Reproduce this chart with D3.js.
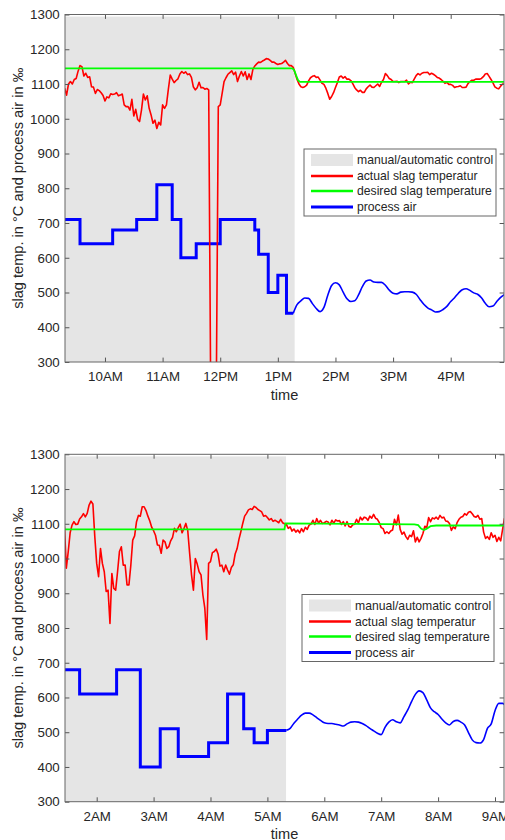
<!DOCTYPE html>
<html lang="en">

<head>
    <meta charset="utf-8">
    <title>Slag temperature: manual vs automatic control</title>
    <script type="text/javascript" src="https://cdn.jsdelivr.net/npm/d3@7"></script>
    <style type="text/css">
    body {
        margin: 0;
        background: #fff;
    }
    svg {
        display: block;
    }
    text {
        font-family: "Liberation Sans", Arial, Helvetica, sans-serif;
        fill: #262626;
    }
    </style>
</head>

<body>
    <script type="text/javascript">
    //svg size
    var w = 505;
    var h = 840;

    //shared y ticks (°C / ‰)
    var yTicks = [300, 400, 500, 600, 700, 800, 900, 1000, 1100, 1200, 1300];

    //legend entries
    var legendLabels = ["manual/automatic control", "actual slag temperatur", "desired slag temperature", "process air"];

    // ---------- upper chart ----------
    var domain1 = ["09:18:22", "16:55:30"];
    var hours1 = ["10:00", "11:00", "12:00", "13:00", "14:00", "15:00", "16:00"];
    var manualEnd1 = "13:17:30";

    //actual slag temperature, one reading every 2 minutes from slagStart1
    var slagStart1 = "09:18";
    var slag1 = [
        1088, 1068, 1100, 1107, 1100, 1113, 1116, 1137, 1153, 1150,
        1123, 1131, 1119, 1121, 1092, 1091, 1073, 1084, 1081, 1075,
        1067, 1051, 1063, 1060, 1072, 1070, 1071, 1075, 1066, 1068,
        1071, 1040, 1035, 1035, 1025, 1056, 1008, 1027, 998, 992,
        1025, 1071, 1054, 1066, 1030, 1011, 987, 996, 972, 990,
        982, 1040, 1030, 1040, 1085, 1126, 1114, 1104, 1110, 1115,
        1129, 1136, 1131, 1135, 1127, 1129, 1119, 1092, 1083, 1089,
        1105, 1089, 1090, 1085, 1087, 1083, 250, 250, 250, 250,
        1035, 1040, 1073, 1107, 1118, 1128, 1133, 1138, 1127, 1134,
        1107, 1123, 1136, 1123, 1135, 1113, 1129, 1113, 1142, 1152,
        1158, 1163, 1162, 1166, 1169, 1173, 1172, 1168, 1163, 1163,
        1159, 1156, 1158, 1159, 1163, 1168, 1159, 1153, 1153, 1148,
        1131, 1113, 1100, 1092, 1090, 1092, 1097, 1109, 1118, 1122,
        1124, 1119, 1120, 1111, 1102, 1099, 1088, 1073, 1056, 1064,
        1075, 1090, 1104, 1120, 1123, 1117, 1121, 1114, 1114, 1110,
        1101, 1090, 1083, 1078, 1082, 1076, 1076, 1086, 1092, 1097,
        1091, 1090, 1095, 1100, 1093, 1105, 1113, 1130, 1124, 1116,
        1113, 1107, 1107, 1108, 1104, 1107, 1107, 1107, 1111, 1100,
        1105, 1104, 1114, 1124, 1130, 1126, 1131, 1133, 1133, 1134,
        1127, 1131, 1128, 1124, 1119, 1117, 1113, 1108, 1102, 1105,
        1099, 1099, 1096, 1090, 1092, 1093, 1095, 1090, 1090, 1091,
        1101, 1107, 1111, 1111, 1114, 1114, 1114, 1116, 1121, 1129,
        1130, 1122, 1113, 1103, 1092, 1088, 1086, 1094, 1100, 1100
    ];

    //desired slag temperature
    var desired1 = [
        ["09:18", 1145], ["13:15", 1145], ["13:17", 1140], ["13:19", 1125],
        ["13:21", 1111], ["13:23", 1106], ["16:56", 1106]
    ];

    //process air, set by hand (steps)
    var airSteps1 = [
        ["09:18", 710], ["09:34", 640], ["10:08", 680], ["10:33", 710],
        ["10:54", 810], ["11:10", 710], ["11:19", 600], ["11:35", 640],
        ["12:00", 710], ["12:36", 680], ["12:40", 610], ["12:50", 500],
        ["13:00", 550], ["13:09", 440], ["13:16", 440]
    ];

    //process air, controller output, one reading every 4 minutes from airStart1
    var airStart1 = "13:16";
    var air1 = [
        440, 465, 476, 484, 483, 468, 454, 445, 457, 492,
        520, 528, 522, 501, 482, 474, 476, 493, 517, 533,
        536, 530, 529, 529, 521, 507, 498, 496, 501, 502,
        502, 501, 495, 480, 466, 456, 450, 444, 445, 451,
        460, 474, 485, 498, 508, 511, 506, 499, 495, 485,
        469, 459, 461, 474, 486, 494
    ];

    // ---------- lower chart ----------
    var domain2 = ["01:26:35", "09:09:29"];
    var hours2 = ["02:00", "03:00", "04:00", "05:00", "06:00", "07:00", "08:00", "09:00"];
    var manualEnd2 = "05:19:40";

    var slagStart2 = "01:26";
    var slag2 = [
        1092, 972, 1020, 1074, 1096, 1106, 1098, 1099, 1114, 1120,
        1129, 1120, 1130, 1154, 1165, 1157, 1063, 986, 948, 1029,
        986, 962, 905, 909, 813, 957, 914, 909, 962, 1020,
        1034, 981, 981, 924, 924, 981, 1053, 1065, 1106, 1124,
        1122, 1149, 1149, 1138, 1122, 1108, 1090, 1080, 1067, 1039,
        1038, 1015, 1053, 1048, 1029, 1034, 1051, 1061, 1087, 1077,
        1089, 1099, 1074, 1086, 1101, 1081, 1015, 953, 909, 1000,
        984, 962, 953, 895, 857, 767, 986, 991, 1017, 1020,
        1027, 1013, 978, 981, 962, 981, 967, 955, 974, 982,
        1013, 1028, 1055, 1077, 1101, 1122, 1130, 1140, 1143, 1141,
        1150, 1147, 1141, 1138, 1134, 1122, 1124, 1118, 1111, 1115,
        1107, 1110, 1107, 1103, 1113, 1103, 1100, 1098, 1087, 1091,
        1079, 1085, 1076, 1082, 1074, 1086, 1077, 1090, 1084, 1096,
        1099, 1110, 1098, 1115, 1102, 1110, 1101, 1103, 1107, 1105,
        1097, 1110, 1102, 1111, 1108, 1109, 1098, 1106, 1094, 1106,
        1092, 1090, 1097, 1099, 1113, 1102, 1119, 1111, 1119, 1117,
        1110, 1122, 1116, 1127, 1116, 1113, 1103, 1089, 1086, 1072,
        1077, 1072, 1079, 1082, 1113, 1097, 1125, 1084, 1070, 1076,
        1063, 1055, 1067, 1063, 1080, 1048, 1061, 1048, 1058, 1072,
        1093, 1088, 1118, 1106, 1117, 1114, 1119, 1113, 1124, 1117,
        1119, 1108, 1107, 1101, 1081, 1091, 1086, 1103, 1113, 1119,
        1121, 1129, 1125, 1133, 1135, 1129, 1121, 1119, 1124, 1113,
        1115, 1076, 1058, 1063, 1055, 1074, 1061, 1067, 1049, 1061,
        1051, 1084, 1116
    ];

    var desired2 = [
        ["01:26", 1084], ["05:18", 1084], ["05:19", 1101], ["06:30", 1100],
        ["07:35", 1098], ["07:39", 1096], ["07:42", 1086], ["07:45", 1082],
        ["07:48", 1086], ["07:52", 1093], ["07:58", 1095], ["09:10", 1095]
    ];

    var airSteps2 = [
        ["01:26", 680], ["01:42", 610], ["02:21", 680], ["02:46", 400],
        ["03:07", 510], ["03:26", 430], ["03:58", 470], ["04:18", 610],
        ["04:35", 510], ["04:46", 470], ["05:00", 505], ["05:20", 505]
    ];

    var airStart2 = "05:20";
    var air2 = [
        506, 511, 526, 538, 549, 555, 555, 550, 542, 534,
        527, 525, 525, 523, 521, 518, 524, 529, 530, 529,
        525, 519, 511, 504, 497, 493, 514, 529, 536, 530,
        527, 545, 564, 588, 609, 619, 614, 593, 570, 559,
        551, 538, 527, 521, 531, 534, 529, 521, 499, 478,
        470, 469, 479, 511, 524, 562, 583, 583, 573
    ];

    //time helpers
    var parseHM = d3.timeParse("%H:%M");
    var parseHMS = d3.timeParse("%H:%M:%S");

    function tm(s) {
        return s.length > 5 ? parseHMS(s) : parseHM(s);
    }

    function series(start, stepMin, vals) {
        var t0 = tm(start);
        return vals.map(function(v, i) {
            return [d3.timeMinute.offset(t0, i * stepMin), v];
        });
    }

    function pairs(arr) {
        return arr.map(function(d) {
            return [tm(d[0]), d[1]];
        });
    }

    //create svg
    var svg = d3.select('body')
        .append('svg')
        .attr('width', w)
        .attr('height', h);

    function drawChart(id, cfg) {
        var x = d3.scaleTime()
            .domain(cfg.domain.map(tm))
            .range([65, 504]);
        var y = d3.scaleLinear()
            .domain([300, 1300])
            .range([cfg.bottom, cfg.top]);

        var g = svg.append('g');

        g.append('clipPath')
            .attr('id', id)
            .append('rect')
            .attr('x', x.range()[0])
            .attr('y', cfg.top)
            .attr('width', x.range()[1] - x.range()[0])
            .attr('height', cfg.bottom - cfg.top);

        var plot = g.append('g').attr('clip-path', 'url(#' + id + ')');

        //manual phase
        plot.append('rect')
            .attr('x', x(tm(cfg.domain[0])))
            .attr('y', y(1294))
            .attr('width', x(tm(cfg.manualEnd)) - x(tm(cfg.domain[0])))
            .attr('height', y(300) - y(1294))
            .attr('fill', '#e5e5e5');

        var line = d3.line()
            .x(function(d) { return x(d[0]); })
            .y(function(d) { return y(d[1]); });

        //process air
        plot.append('path')
            .datum(pairs(cfg.airSteps))
            .attr('fill', 'none')
            .attr('stroke', '#0000ff')
            .attr('stroke-width', 3)
            .attr('d', line.curve(d3.curveStepAfter));

        plot.append('path')
            .datum(series(cfg.airStart, 4, cfg.air))
            .attr('fill', 'none')
            .attr('stroke', '#0000ff')
            .attr('stroke-width', 1.6)
            .attr('d', line.curve(d3.curveMonotoneX));

        //actual slag temperature
        plot.append('path')
            .datum(series(cfg.slagStart, 2, cfg.slag))
            .attr('fill', 'none')
            .attr('stroke', '#ff0000')
            .attr('stroke-width', 1.6)
            .attr('stroke-linejoin', 'round')
            .attr('d', line.curve(d3.curveLinear));

        //desired slag temperature
        plot.append('path')
            .datum(pairs(cfg.desired))
            .attr('fill', 'none')
            .attr('stroke', '#00ff00')
            .attr('stroke-width', 1.8)
            .attr('d', line.curve(d3.curveLinear));

        //axes, ticks pointing inwards on all four sides
        var tickVals = cfg.hours.map(tm);
        var axes = g.append('g')
            .attr('color', '#555');

        axes.append('g')
            .attr('transform', 'translate(0,' + cfg.bottom + ')')
            .call(d3.axisBottom(x).tickValues(tickVals).tickFormat(d3.timeFormat('%-I%p'))
                .tickSize(-4.4).tickPadding(10));
        axes.append('g')
            .attr('transform', 'translate(0,' + cfg.top + ')')
            .call(d3.axisTop(x).tickValues(tickVals).tickFormat('').tickSize(-4.4));
        axes.append('g')
            .attr('transform', 'translate(65,0)')
            .call(d3.axisLeft(y).tickValues(yTicks).tickFormat(d3.format('d'))
                .tickSize(-4.4).tickPadding(5.3));
        axes.append('g')
            .attr('transform', 'translate(504,0)')
            .call(d3.axisRight(y).tickValues(yTicks).tickFormat('').tickSize(-4.4));
        axes.selectAll('.domain').remove();
        axes.selectAll('g').attr('font-size', 13.3);

        axes.append('rect')
            .attr('x', 65)
            .attr('y', cfg.top)
            .attr('width', 504 - 65)
            .attr('height', cfg.bottom - cfg.top)
            .attr('fill', 'none')
            .attr('stroke', '#666')
            .attr('stroke-width', 1);

        //axis titles
        g.append('text')
            .attr('x', 284.5)
            .attr('y', cfg.timeY)
            .attr('text-anchor', 'middle')
            .attr('font-size', 14.6)
            .text('time');

        g.append('text')
            .attr('transform', 'translate(22.5,' + (cfg.top + cfg.bottom) / 2 + ') rotate(-90)')
            .attr('text-anchor', 'middle')
            .attr('font-size', 14.6)
            .text('slag temp. in °C and process air in ‰');

        //legend
        var lg = g.append('g')
            .attr('transform', 'translate(' + cfg.legend[0] + ',' + cfg.legend[1] + ')');
        lg.append('rect')
            .attr('width', 192)
            .attr('height', 67)
            .attr('fill', '#fff')
            .attr('stroke', '#666');

        var rowY = [11, 27, 42, 58];
        var swatch = ['#ff0000', '#00ff00', '#0000ff'];
        lg.append('rect')
            .attr('x', 7)
            .attr('y', rowY[0] - 6)
            .attr('width', 42)
            .attr('height', 12)
            .attr('fill', '#e5e5e5');
        swatch.forEach(function(c, i) {
            lg.append('line')
                .attr('x1', 7)
                .attr('x2', 49)
                .attr('y1', rowY[i + 1])
                .attr('y2', rowY[i + 1])
                .attr('stroke', c)
                .attr('stroke-width', i == 2 ? 3 : 2.4);
        });
        lg.selectAll('text.lab')
            .data(legendLabels)
            .enter()
            .append('text')
            .attr('class', 'lab')
            .attr('x', 53)
            .attr('y', function(d, i) { return rowY[i]; })
            .attr('dy', '0.36em')
            .attr('font-size', 12.2)
            .text(function(d) { return d; });
    }

    drawChart('clip1', {
        top: 14.5, bottom: 362, timeY: 400, legend: [304, 149],
        domain: domain1, hours: hours1, manualEnd: manualEnd1,
        slagStart: slagStart1, slag: slag1, desired: desired1,
        airSteps: airSteps1, airStart: airStart1, air: air1
    });

    drawChart('clip2', {
        top: 454.3, bottom: 801.7, timeY: 838.5, legend: [302, 594.5],
        domain: domain2, hours: hours2, manualEnd: manualEnd2,
        slagStart: slagStart2, slag: slag2, desired: desired2,
        airSteps: airSteps2, airStart: airStart2, air: air2
    });
    </script>
</body>
